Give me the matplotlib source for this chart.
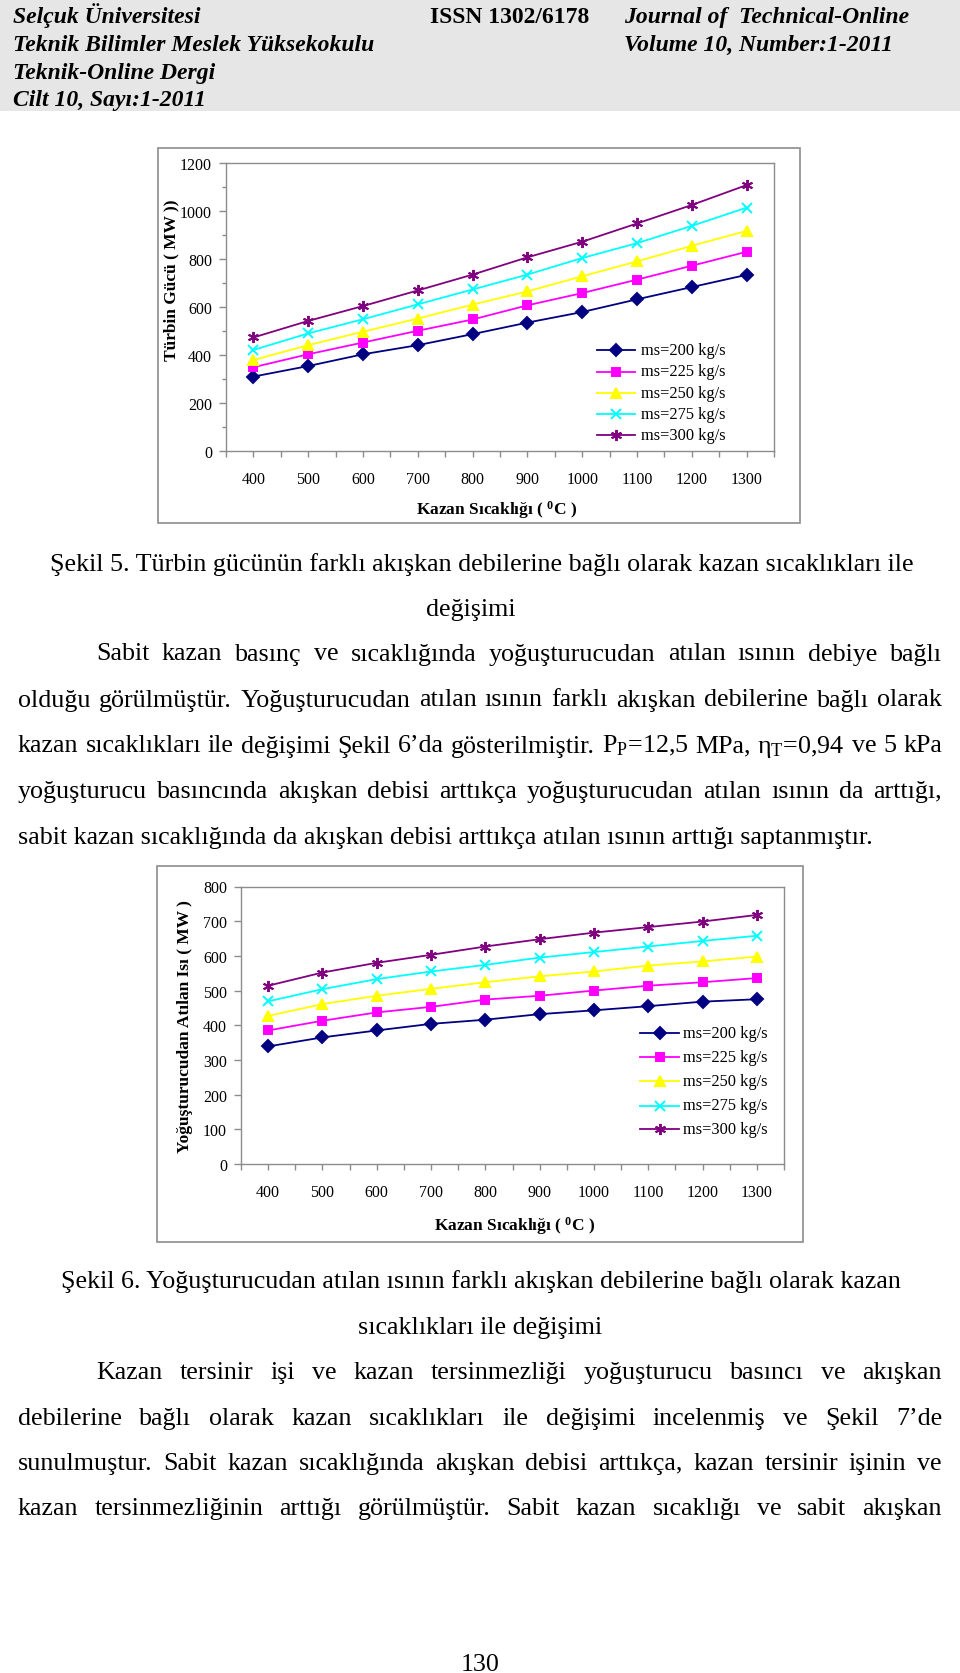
import numpy as np
import matplotlib.pyplot as plt
from matplotlib.patches import Rectangle
from matplotlib.lines import Line2D
from matplotlib.ticker import MultipleLocator

plt.rcParams['font.family'] = ['Liberation Serif', 'DejaVu Serif']
plt.rcParams['mathtext.default'] = 'regular'

W, H = 960, 1674

# data
temps = [400, 500, 600, 700, 800, 900, 1000, 1100, 1200, 1300]
labels = ['ms=200 kg/s', 'ms=225 kg/s', 'ms=250 kg/s', 'ms=275 kg/s', 'ms=300 kg/s']

power_200 = [310, 354, 403, 441, 487, 535, 579, 632, 683, 734]
power_225 = [349, 403, 452, 501, 548, 607, 658, 714, 772, 830]
power_250 = [379, 441, 497, 552, 610, 665, 728, 790, 855, 917]
power_275 = [421, 490, 549, 611, 673, 735, 804, 866, 938, 1014]
power_300 = [473, 542, 604, 669, 735, 807, 872, 948, 1025, 1108]

heat_200 = [339, 365, 385, 404, 416, 432, 443, 455, 468, 475]
heat_225 = [385, 413, 437, 453, 474, 485, 500, 514, 524, 536]
heat_250 = [427, 461, 485, 505, 524, 541, 555, 572, 584, 598]
heat_275 = [469, 504, 533, 555, 574, 595, 611, 627, 643, 658]
heat_300 = [514, 552, 580, 603, 627, 648, 667, 683, 699, 718]

colors = ['#000080', '#ff00ff', '#ffff00', '#00ffff', '#800080']
markers = ['D', 's', '^', 'x', (6, 2, 0)]
msizes = [6.5, 6, 7.5, 7, 8]

GREY = '#8c8c8c'


def fx(x):
    return x / W


def fy(y):
    return 1 - y / H


fig = plt.figure(figsize=(W / 100, H / 100), dpi=100)
r = fig.canvas.get_renderer()

# header band
fig.add_artist(Rectangle((0, fy(112)), 1, 112 / H, transform=fig.transFigure,
                         facecolor='#e6e6e6', edgecolor='none', zorder=0))
hdr = dict(fontsize=17, fontweight='bold', fontstyle='italic', va='baseline')
fig.text(fx(13), fy(23), 'Selçuk Üniversitesi', **hdr)
fig.text(fx(13), fy(51), 'Teknik Bilimler Meslek Yüksekokulu', **hdr)
fig.text(fx(13), fy(78.5), 'Teknik-Online Dergi', **hdr)
fig.text(fx(13), fy(106), 'Cilt 10, Sayı:1-2011', **hdr)
fig.text(fx(430), fy(23), 'ISSN 1302/6178', fontsize=17, fontweight='bold', va='baseline')
fig.text(fx(624), fy(23), 'Journal of  Technical-Online', **hdr)
fig.text(fx(624), fy(51), 'Volume 10, Number:1-2011', **hdr)


def chart(box, frame, series, ymax, ymaj, ymin, ylab, ylab_xy, xlab_xy, leg):
    l, t, rr, b = box
    ax = fig.add_axes([fx(l), fy(b), (rr - l) / W, (b - t) / H])
    fl, ft, fr, fb = frame
    fig.add_artist(Rectangle((fx(fl), fy(fb)), (fr - fl) / W, (fb - ft) / H,
                             transform=fig.transFigure, facecolor='none',
                             edgecolor=GREY, lw=1.2))
    x = np.arange(len(temps))
    for vals, c, m, s in zip(series, colors, markers, msizes):
        ax.plot(x, vals, color=c, lw=1.3, marker=m, ms=s, mfc=c, mec=c, mew=1.4,
                clip_on=False)
    ax.set_xlim(-0.5, len(temps) - 0.5)
    ax.set_ylim(0, ymax)
    ax.set_xticks(x)
    ax.set_xticklabels([str(v) for v in temps])
    ax.set_xticks(np.arange(len(temps) + 1) - 0.5, minor=True)
    ax.yaxis.set_major_locator(MultipleLocator(ymaj))
    if ymin:
        ax.yaxis.set_minor_locator(MultipleLocator(ymin))
    else:
        ax.yaxis.set_minor_locator(plt.NullLocator())
    for sp in ax.spines.values():
        sp.set_color(GREY)
        sp.set_linewidth(1)
    ax.tick_params(axis='y', which='major', length=5, width=1, color=GREY, labelsize=11.5, pad=5)
    ax.tick_params(axis='y', which='minor', length=3, width=1, color=GREY)
    ax.tick_params(axis='x', which='both', length=4.5, width=1, color=GREY, labelsize=11.5, pad=10)
    ax.set_ylabel(ylab, fontsize=12.5, fontweight='bold', va='center', ha='center')
    ax.yaxis.set_label_coords((ylab_xy[0] - l) / (rr - l), (b - ylab_xy[1]) / (b - t))
    ax.set_xlabel('Kazan Sıcaklığı ( $^{0}$C )', fontsize=12.5, fontweight='bold', va='center')
    ax.xaxis.set_label_coords((xlab_xy[0] - l) / (rr - l), (b - xlab_xy[1]) / (b - t))
    x0, x1, xt, ys = leg
    for lab, c, m, s, y in zip(labels, colors, markers, msizes, ys):
        fig.add_artist(Line2D([fx(x0), fx(x1)], [fy(y), fy(y)], transform=fig.transFigure,
                              color=c, lw=1.3))
        fig.add_artist(Line2D([fx((x0 + x1) / 2)], [fy(y)], transform=fig.transFigure,
                              color=c, marker=m, ms=s, mfc=c, mec=c, mew=1.4, ls='none'))
        fig.text(fx(xt), fy(y), lab, fontsize=11.8, va='center', ha='left')
    return ax


chart((226, 164, 774, 452), (158, 149, 800, 524),
      [power_200, power_225, power_250, power_275, power_300],
      1200, 200, 100, 'Türbin Gücü ( MW ))', (171, 280), (497, 510),
      (597, 635, 641, [351, 372.5, 393.5, 415, 436]))

chart((241, 887.5, 784, 1165), (157, 867, 803, 1243),
      [heat_200, heat_225, heat_250, heat_275, heat_300],
      800, 100, None, 'Yoğuşturucudan Atılan Isı ( MW )', (185, 1027), (515, 1226),
      (640, 679, 683, [1034, 1058, 1082, 1106.5, 1130]))

FS = 18.7
L, R, IND = 18, 942, 96


def line(s, y, x0=L, x1=None, center=None):
    if center is not None:
        fig.text(fx(center), fy(y), s, fontsize=FS, ha='center', va='baseline')
        return
    if x1 is None:
        fig.text(fx(x0), fy(y), s, fontsize=FS, ha='left', va='baseline')
        return
    words = s.split(' ')
    ts = [fig.text(0, 0, w, fontsize=FS, ha='left', va='baseline') for w in words]
    ws = [t.get_window_extent(renderer=r).width for t in ts]
    gap = (x1 - x0 - sum(ws)) / (len(words) - 1)
    xx = x0
    for t, w in zip(ts, ws):
        t.set_position((fx(xx), fy(y)))
        xx += w + gap


line('Şekil 5. Türbin gücünün farklı akışkan debilerine bağlı olarak kazan sıcaklıkları ile', 571, center=482)
line('değişimi', 616, center=471)
line('Sabit kazan basınç ve sıcaklığında yoğuşturucudan atılan ısının debiye bağlı', 660.5, IND, R)
line('olduğu görülmüştür. Yoğuşturucudan atılan ısının farklı akışkan debilerine bağlı olarak', 706.5, L, R)
line('kazan sıcaklıkları ile değişimi Şekil 6’da gösterilmiştir. P$_P$=12,5 MPa, η$_T$=0,94 ve 5 kPa', 752.5, L, R)
line('yoğuşturucu basıncında akışkan debisi arttıkça yoğuşturucudan atılan ısının da arttığı,', 798, L, R)
line('sabit kazan sıcaklığında da akışkan debisi arttıkça atılan ısının arttığı saptanmıştır.', 844, L)

line('Şekil 6. Yoğuşturucudan atılan ısının farklı akışkan debilerine bağlı olarak kazan', 1288, center=481)
line('sıcaklıkları ile değişimi', 1334, center=480)
line('Kazan tersinir işi ve kazan tersinmezliği yoğuşturucu basıncı ve akışkan', 1379, IND, R)
line('debilerine bağlı olarak kazan sıcaklıkları ile değişimi incelenmiş ve Şekil 7’de', 1425, L, R)
line('sunulmuştur. Sabit kazan sıcaklığında akışkan debisi arttıkça, kazan tersinir işinin ve', 1470, L, R)
line('kazan tersinmezliğinin arttığı görülmüştür. Sabit kazan sıcaklığı ve sabit akışkan', 1515, L, R)

fig.text(fx(480), fy(1671), '130', fontsize=FS, ha='center', va='baseline')

fig.savefig('out.png', dpi=100)
